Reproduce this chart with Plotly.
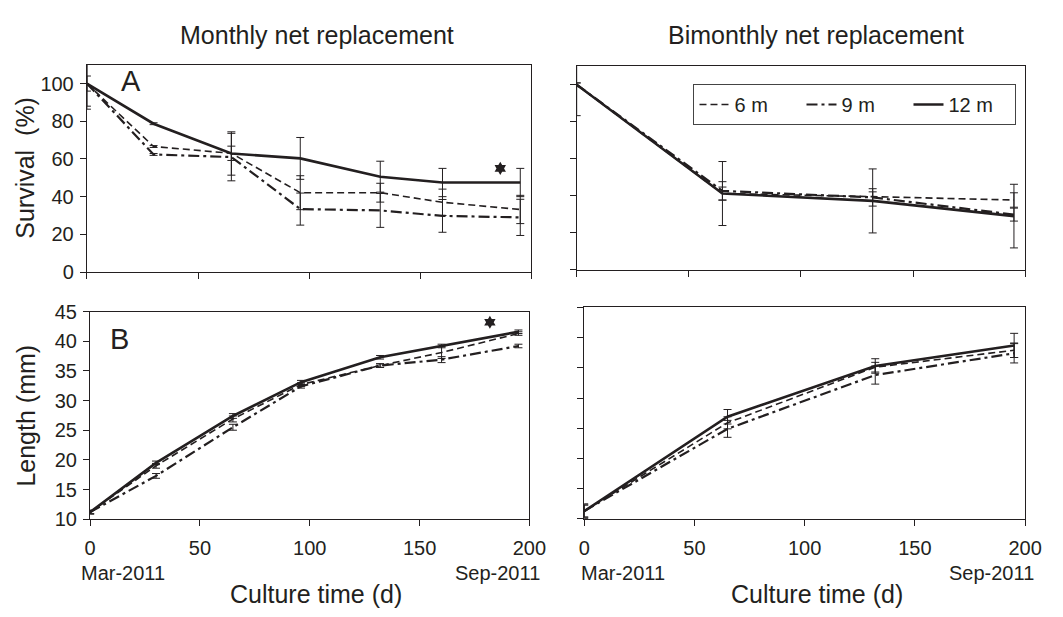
import plotly.graph_objects as go

W, H = 1063, 617

# ---------------- data ----------------
x_month = [0, 30, 65, 96, 132, 160, 195]
x_bimonth = [0, 65, 132, 195]

surv_m_6 = [100, 66.6, 63.0, 42.1, 42.1, 37.0, 33.2]
surv_m_9 = [100, 62.4, 61.0, 33.4, 32.7, 29.8, 29.0]
surv_m_12 = [100, 78.7, 62.9, 60.3, 50.6, 47.5, 47.5]
surv_m_6_err = [4, 0.5, 3.8, 9, 5, 7, 7.5]
surv_m_9_err = [12, 0.5, 12.6, 8.5, 9, 8.7, 9.6]
surv_m_12_err = [13.6, 0.5, 11.5, 11.1, 8.2, 7.5, 7.5]

surv_b_6 = [100, 41.2, 39.5, 37.7]
surv_b_9 = [100, 42.6, 39.1, 29.8]
surv_b_12 = [100, 41.2, 37.2, 29.0]
surv_b_6_err = [1, 3.5, 2.6, 3.9]
surv_b_9_err = [1, 5.0, 4.7, 3.5]
surv_b_12_err = [16.7, 17.3, 17.3, 17.2]

len_m_6 = [11.2, 19.0, 26.9, 32.7, 35.9, 38.1, 41.3]
len_m_9 = [11.2, 17.3, 25.5, 32.4, 35.9, 36.9, 39.2]
len_m_12 = [11.2, 19.5, 27.4, 33.1, 37.3, 39.2, 41.6]
len_m_6_err = [0.3, 0.4, 0.5, 0.3, 0.3, 1.0, 0.3]
len_m_9_err = [0.3, 0.4, 0.5, 0.3, 0.3, 0.5, 0.3]
len_m_12_err = [0.3, 0.3, 0.4, 0.3, 0.3, 0.3, 0.3]

len_b_6 = [11.3, 25.9, 35.1, 37.9]
len_b_9 = [11.3, 24.9, 33.8, 37.4]
len_b_12 = [11.3, 26.9, 35.3, 38.7]
len_b_6_err = [1.2, 1.0, 0.8, 1.2]
len_b_9_err = [1.0, 1.4, 1.5, 1.6]
len_b_12_err = [1.0, 1.2, 1.2, 2.0]

series_names = ["6 m", "9 m", "12 m"]
sig_surv_x, sig_surv_y = [186], [55]
sig_len_x, sig_len_y = [182], [43.2]

x_ticks = [0, 50, 100, 150, 200]
surv_ticks = [0, 20, 40, 60, 80, 100]
len_ticks = [10, 15, 20, 25, 30, 35, 40, 45]

# ---------------- styles ----------------
INK = "#231f20"
FONT = "Liberation Sans, Arial, Helvetica, sans-serif"
styles = {
    "6 m": dict(width=1.6, dash="7px,4px"),
    "9 m": dict(width=2.2, dash="11px,4px,3px,4px"),
    "12 m": dict(width=2.6, dash="solid"),
}

fig = go.Figure()


def add_panel(xs, ys_list, errs_list, xa, ya, show_legend=False):
    for name, ys, errs in zip(series_names, ys_list, errs_list):
        st = styles[name]
        fig.add_trace(go.Scatter(
            x=xs, y=ys, name=name, mode="lines",
            line=dict(color=INK, width=st["width"], dash=st["dash"]),
            error_y=dict(type="data", array=errs, visible=True,
                         color=INK, thickness=1, width=4),
            xaxis=xa, yaxis=ya, showlegend=show_legend,
            legendrank={"6 m": 1, "9 m": 2, "12 m": 3}[name],
        ))


add_panel(x_month, [surv_m_6, surv_m_9, surv_m_12],
          [surv_m_6_err, surv_m_9_err, surv_m_12_err], "x", "y")
add_panel(x_bimonth, [surv_b_6, surv_b_9, surv_b_12],
          [surv_b_6_err, surv_b_9_err, surv_b_12_err], "x2", "y2", show_legend=True)
add_panel(x_month, [len_m_6, len_m_9, len_m_12],
          [len_m_6_err, len_m_9_err, len_m_12_err], "x3", "y3")
add_panel(x_bimonth, [len_b_6, len_b_9, len_b_12],
          [len_b_6_err, len_b_9_err, len_b_12_err], "x4", "y4")

# significance stars
for sx, sy, xa, ya in [(sig_surv_x, sig_surv_y, "x", "y"), (sig_len_x, sig_len_y, "x3", "y3")]:
    fig.add_trace(go.Scatter(
        x=sx, y=sy, mode="markers", xaxis=xa, yaxis=ya, showlegend=False,
        marker=dict(symbol="hexagram", size=10, color=INK, line=dict(width=0)),
    ))


def px_x(p):
    return p / W


def px_y(p):
    return 1 - p / H


axis_common = dict(
    showline=True, linecolor=INK, linewidth=1.3, mirror=True,
    ticks="outside", ticklen=6, tickwidth=1, tickcolor=INK,
    showgrid=False, zeroline=False,
    tickfont=dict(family=FONT, size=20, color=INK),
)

domains = {
    "1": dict(x=[82.7, 537], y=[55.7, 270.7]),
    "2": dict(x=[583.3, 1041.7], y=[57.3, 268.3]),
    "3": dict(x=[86, 535], y=[311.7, 527]),
    "4": dict(x=[591, 1041.7], y=[307.3, 526.7]),
}

layout_axes = {}
for k, d in domains.items():
    sfx = "" if k == "1" else k
    xd = [px_x(d["x"][0]), px_x(d["x"][1])]
    yd = [px_y(d["y"][1]), px_y(d["y"][0])]
    is_top = k in ("1", "2")
    is_right = k in ("2", "4")
    layout_axes["xaxis" + sfx] = dict(
        axis_common, domain=xd, range=[0, 200], tickvals=x_ticks,
        showticklabels=not is_top, anchor="y" + sfx,
        ticklabelstandoff=5,
    )
    layout_axes["yaxis" + sfx] = dict(
        axis_common, domain=yd,
        range=[0, 110] if is_top else [10, 45],
        tickvals=surv_ticks if is_top else len_ticks,
        showticklabels=not is_right, anchor="x" + sfx,
        ticklabelstandoff=2,
    )

ann = []


def text(x, y, t, size=25, xanchor="center", yanchor="middle", xref="paper", yref="paper",
         angle=0, xshift=0):
    ann.append(dict(x=x, y=y, text=t, showarrow=False, xref=xref, yref=yref,
                    xanchor=xanchor, yanchor=yanchor, textangle=angle, xshift=xshift,
                    font=dict(family=FONT, size=size, color=INK)))


text(px_x(318), px_y(25), "Monthly net replacement")
text(px_x(828), px_y(25), "Bimonthly net replacement")
text(px_x(20), px_y(163), "Survival\u00a0\u00a0(%)", angle=-90)
text(px_x(20), px_y(420), "Length (mm)", angle=-90)
text(px_x(317), px_y(605), "Culture time (d)")
text(px_x(829), px_y(605), "Culture time (d)")
text(20, 101.5, "A", size=29, xref="x", yref="y")
text(13.4, 40.3, "B", size=29, xref="x3", yref="y3")
text(0, px_y(583), "Mar-2011", size=20, xanchor="left", xref="x3", xshift=-11)
text(200, px_y(583), "Sep-2011", size=20, xanchor="right", xref="x3", xshift=13)
text(0, px_y(583), "Mar-2011", size=20, xanchor="left", xref="x4", xshift=-5)
text(200, px_y(583), "Sep-2011", size=20, xanchor="right", xref="x4", xshift=11)

fig.update_layout(
    width=W, height=H, margin=dict(l=0, r=0, t=0, b=0),
    paper_bgcolor="white", plot_bgcolor="white",
    font=dict(family=FONT, color=INK),
    annotations=ann,
    legend=dict(
        x=px_x(702.7), y=px_y(75.7), xanchor="left", yanchor="top",
        orientation="h", bordercolor="#444", borderwidth=1, bgcolor="white",
        font=dict(family=FONT, size=20, color=INK), itemwidth=30,
        entrywidth=62, entrywidthmode="pixels",
        traceorder="normal",
    ),
    **layout_axes,
)

fig.write_html("out.html")
